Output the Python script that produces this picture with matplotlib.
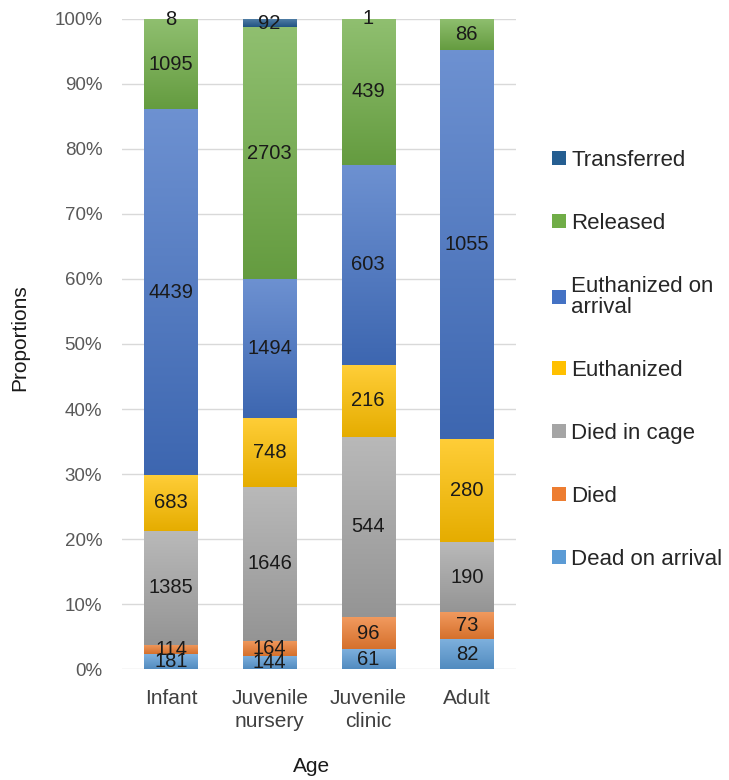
import numpy as np
import matplotlib.pyplot as plt
from matplotlib.colors import to_rgb

plt.rcParams['font.family'] = ['Liberation Sans', 'DejaVu Sans']

ages = ["Infant", "Juvenile\nnursery", "Juvenile\nclinic", "Adult"]

# counts per outcome, bottom of the stack first
dead_on_arrival = [181, 144, 61, 82]
died = [114, 164, 96, 73]
died_in_cage = [1385, 1646, 544, 190]
euthanized = [683, 748, 216, 280]
euthanized_on_arrival = [4439, 1494, 603, 1055]
released = [1095, 2703, 439, 86]
transferred = [8, 92, 1, 0]

outcomes = ["Dead on arrival", "Died", "Died in cage", "Euthanized",
            "Euthanized on\narrival", "Released", "Transferred"]
colors = ["#5B9BD5", "#ED7D31", "#A5A5A5", "#FFC000",
          "#4472C4", "#70AD47", "#255E91"]

counts = np.array([dead_on_arrival, died, died_in_cage, euthanized,
                   euthanized_on_arrival, released, transferred], dtype=float)
props = counts / counts.sum(axis=0) * 100

fig = plt.figure(figsize=(7.29, 7.8), dpi=100)
ax = fig.add_axes([0.167, 0.142, 0.541, 0.834])

x = np.arange(len(ages))
width = 0.54
bottom = np.zeros(len(ages))
handles = []
for i, (name, col) in enumerate(zip(outcomes, colors)):
    bars = ax.bar(x, props[i], width, bottom=bottom, color=col, label=name,
                  zorder=2, linewidth=0)
    handles.append(bars)
    # vertical shading: a bit lighter at the top of every segment
    base = np.array(to_rgb(col))
    light = base + (1 - base) * 0.22
    dark = base * 0.9
    t = np.linspace(0, 1, 64)[:, None]
    grad = (light[None, :] * (1 - t) + dark[None, :] * t)[:, None, :]
    for j, patch in enumerate(bars.patches):
        if props[i, j] <= 0:
            continue
        im = ax.imshow(grad, extent=[x[j] - width / 2, x[j] + width / 2,
                                     bottom[j], bottom[j] + props[i, j]],
                       aspect='auto', zorder=2.5, interpolation='bilinear')
        im.set_clip_path(patch)
        ax.text(x[j], bottom[j] + props[i, j] / 2, f"{int(counts[i, j])}",
                ha='center', va='center', fontsize=14.5, color='#1a1a1a',
                zorder=4)
    bottom += props[i]

ax.set_xlim(-0.5, len(ages) - 0.5)
ax.set_ylim(0, 100)
ax.set_yticks(np.arange(0, 101, 10))
ax.set_yticklabels([f"{v}%" for v in range(0, 101, 10)])
ax.set_xticks(x)
ax.set_xticklabels(ages)
ax.grid(axis='y', color='#d9d9d9', linewidth=1, zorder=0)
for s in ax.spines.values():
    s.set_visible(False)
ax.tick_params(axis='both', length=0)
ax.tick_params(axis='y', pad=14, labelsize=13.5, colors='#595959')
ax.tick_params(axis='x', pad=14, labelsize=15, colors='#404040')
for lab in ax.get_xticklabels():
    lab.set_linespacing(1.3)

fig.text(0.027, 0.567, "Proportions", rotation=90, ha='center', va='center',
         fontsize=15, color='#1a1a1a')
fig.text(0.428, 0.017, "Age", ha='center', va='center', fontsize=15,
         color='#1a1a1a')

leg = fig.legend(handles[::-1], outcomes[::-1], loc='center left',
                 bbox_to_anchor=(0.730, 0.539), frameon=False, fontsize=16,
                 handlelength=0.6, handleheight=0.6, handletextpad=0.25,
                 labelspacing=1.89)
for txt in leg.get_texts():
    txt.set_color('#262626')
    txt.set_linespacing(1.0)

fig.savefig("out.png", dpi=100)
